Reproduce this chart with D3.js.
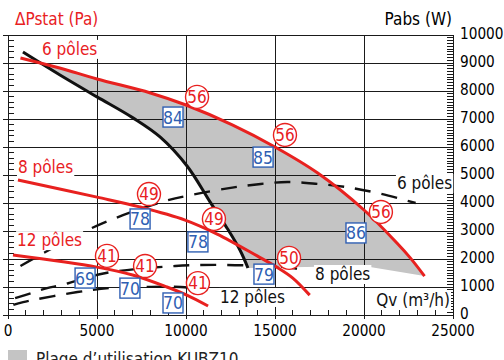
<!DOCTYPE html>
<html><head><meta charset="utf-8">
<script src="https://cdn.jsdelivr.net/npm/d3@7"></script>
<style>
html,body{margin:0;padding:0;background:#fff;overflow:hidden}
svg{display:block}
</style></head>
<body>
<svg id="c" width="504" height="360"></svg>
<script>
// ---- data ----
const qvTicks = [0, 5000, 10000, 15000, 20000, 25000];
const pabsTicks = [0, 1000, 2000, 3000, 4000, 5000, 6000, 7000, 8000, 9000, 10000];

// pressure curves (Qv m3/h, ΔPstat Pa)
const p6Q = [700, 2900, 5000, 8000, 10000, 12600, 15000, 17400, 20000, 21850, 22600, 23400];
const p6P = [918, 882, 843, 793, 750, 679, 600, 507, 375, 257, 204, 139];
const p8Q = [560, 5000, 7400, 9950, 11750, 14000, 15100, 16000, 16950];
const p8P = [482, 421, 386, 339, 289, 211, 171, 132, 71];
const p12Q = [280, 5000, 7000, 8930, 10050, 11240];
const p12P = [214, 171, 143, 100, 71, 32];
// system curve
const sysQ = [840, 2920, 5000, 7020, 8540, 10060, 11350, 12300, 13030, 13480];
const sysP = [939, 857, 779, 704, 636, 532, 404, 311, 232, 168];

// power curves (Qv, Pabs W)
const w6Q = [700, 2100, 3900, 5400, 8700, 10400, 12600, 14200, 15700, 17400, 19000, 20800, 22900];
const w6W = [1750, 2250, 2850, 3300, 4050, 4300, 4550, 4680, 4750, 4680, 4570, 4350, 4000];
const w8Q = [400, 1350, 2200, 3000, 5500, 9400, 11900, 14200, 16000, 16800];
const w8W = [600, 790, 960, 1070, 1500, 1750, 1790, 1750, 1680, 1540];
const w12Q = [300, 850, 3900, 5700, 7400, 9700, 11200];
const w12W = [360, 460, 820, 960, 1000, 1000, 890];

// usage range corners
const rangeStart = [1700, 907];
const rangeBottomQ = [23400, 20000, 13480];
const rangeBottomP = [139, 175, 168];

// efficiency (circles) and sound (boxes) annotations
const effLabels = ["56", "56", "56", "49", "49", "50", "41", "41", "41"];
const effQ = [10620, 15560, 20950, 7920, 11570, 15790, 5560, 7700, 10670];
const effP = [779, 643, 368, 432, 343, 204, 211, 175, 114];
const sndLabels = ["84", "85", "86", "78", "78", "79", "69", "70", "70"];
const sndQ = [9270, 14330, 19550, 7420, 10670, 14380, 4330, 6850, 9270];
const sndP = [707, 564, 293, 343, 261, 146, 132, 96, 43];

// curve names
const nameTexts = ["6 pôles", "8 pôles", "12 pôles", "6 pôles", "8 pôles", "12 pôles"];
const nameQ = [1910, 560, 510, 21850, 17250, 11910];
const nameP = [929, 507, 246, 450, 125, 43];
const nameRed = [true, true, true, false, false, false];

// ---- drawing ----
const FONT = "'Liberation Sans Narrow','DejaVu Sans Condensed','Arial Narrow',sans-serif";
const RED = "#e8211f", BLUE = "#2f5fb3", GRAY = "#c4c4c4";
const svg = d3.select("#c");
const x = d3.scaleLinear([0, 25000], [8, 453]);
const yW = d3.scaleLinear([0, 10000], [315, 35]);
const yP = d3.scaleLinear([0, 1000], [315, 35]);

const zip = (a, b) => a.map((v, i) => [v, b[i]]);
const lineP = d3.line().x(d => x(d[0])).y(d => yP(d[1])).curve(d3.curveCatmullRom);
const lineW = d3.line().x(d => x(d[0])).y(d => yW(d[1])).curve(d3.curveCatmullRom);

// usage range area
const rangeTop = [rangeStart].concat(zip(p6Q, p6P).filter(d => d[0] > rangeStart[0]));
const sysRev = zip(sysQ, sysP).filter(d => d[0] > rangeStart[0]).reverse().concat([rangeStart]);
let dArea = lineP(rangeTop);
zip(rangeBottomQ, rangeBottomP).forEach(d => { dArea += "L" + x(d[0]) + "," + yP(d[1]); });
dArea += lineP(sysRev).replace(/^M/, "L") + "Z";
svg.append("path").attr("d", dArea).attr("fill", GRAY);

// grid
const g = svg.append("g").attr("stroke", "#1a1a1a").attr("stroke-width", 1).attr("shape-rendering", "crispEdges");
pabsTicks.forEach(t => g.append("line").attr("x1", 3).attr("x2", x(25000)).attr("y1", yW(t)).attr("y2", yW(t)));
qvTicks.forEach(t => g.append("line").attr("x1", x(t)).attr("x2", x(t)).attr("y1", yW(10000)).attr("y2", yW(0) + 4));
// minor ticks
d3.range(0, 1000, 20).forEach(t => g.append("line").attr("x1", x(0)).attr("x2", x(0) + 6).attr("y1", yP(t)).attr("y2", yP(t)));
d3.range(0, 10000, 100).forEach(t => g.append("line").attr("x1", x(25000) - 6).attr("x2", x(25000)).attr("y1", yW(t)).attr("y2", yW(t)));
d3.range(0, 25000, 1000).forEach(t => g.append("line").attr("x1", x(t)).attr("x2", x(t)).attr("y1", yW(0) - 5).attr("y2", yW(0)));

// axis labels
const txt = svg.append("g").attr("font-family", FONT);
qvTicks.forEach(t => txt.append("text").attr("x", x(t)).attr("y", yW(0) + 21).attr("text-anchor", "middle")
  .attr("font-size", 15.2).text(t));
pabsTicks.forEach(t => txt.append("text").attr("x", x(25000) + 7).attr("y", yW(t) + 3.5).attr("font-size", 15.2).text(t));
txt.append("text").attr("x", 15).attr("y", 25).attr("font-size", 17).attr("fill", RED).text("ΔPstat (Pa)");
txt.append("text").attr("x", 452).attr("y", 25).attr("font-size", 17).attr("text-anchor", "end").text("Pabs (W)");

// power curves (dashed)
[[w6Q, w6W], [w8Q, w8W], [w12Q, w12W]].forEach(([q, w]) =>
  svg.append("path").attr("d", lineW(zip(q, w))).attr("fill", "none").attr("stroke", "#111")
    .attr("stroke-width", 2.4).attr("stroke-dasharray", "16,11"));
// system curve
svg.append("path").attr("d", lineP(zip(sysQ, sysP))).attr("fill", "none").attr("stroke", "#111").attr("stroke-width", 3);
// pressure curves
[[p6Q, p6P], [p8Q, p8P], [p12Q, p12P]].forEach(([q, p]) =>
  svg.append("path").attr("d", lineP(zip(q, p))).attr("fill", "none").attr("stroke", RED).attr("stroke-width", 3));

// label with white background
function bgText(parent, tx, ty, s, color, size, anchor) {
  const gg = parent.append("g");
  const r = gg.append("rect").attr("fill", "#fff");
  const t = gg.append("text").attr("x", tx).attr("y", ty).attr("fill", color).attr("font-size", size)
    .attr("font-family", FONT).attr("text-anchor", anchor || "start").text(s);
  const b = t.node().getBBox();
  r.attr("x", b.x - 1).attr("y", b.y + 1).attr("width", b.width + 2).attr("height", b.height - 1);
}
nameTexts.forEach((s, i) => bgText(svg, x(nameQ[i]), yP(nameP[i]), s, nameRed[i] ? RED : "#111", 17));
bgText(svg, 450, 306, "Qv (m³/h)", "#111", 17, "end");

// efficiency circles
effLabels.forEach((s, i) => {
  const cx = x(effQ[i]), cy = yP(effP[i]);
  svg.append("circle").attr("cx", cx).attr("cy", cy).attr("r", 11.5).attr("fill", "#fff").attr("stroke", RED).attr("stroke-width", 1.4);
  svg.append("text").attr("x", cx).attr("y", cy + 6).attr("text-anchor", "middle").attr("font-family", FONT)
    .attr("font-size", 17).attr("fill", RED).text(s);
});
// sound boxes
sndLabels.forEach((s, i) => {
  const cx = x(sndQ[i]), cy = yP(sndP[i]);
  svg.append("rect").attr("x", cx - 10).attr("y", cy - 10).attr("width", 20).attr("height", 20)
    .attr("fill", "#fff").attr("stroke", BLUE).attr("stroke-width", 1.4);
  svg.append("text").attr("x", cx).attr("y", cy + 6.5).attr("text-anchor", "middle").attr("font-family", FONT)
    .attr("font-size", 17.5).attr("fill", BLUE).text(s);
});

// legend
svg.append("rect").attr("x", 8).attr("y", 350).attr("width", 19).attr("height", 14).attr("fill", GRAY);
svg.append("text").attr("x", 36).attr("y", 365).attr("font-family", FONT).attr("font-size", 17).attr("fill", "#222")
  .text("Plage d’utilisation KUBZ10");
</script>
</body></html>
